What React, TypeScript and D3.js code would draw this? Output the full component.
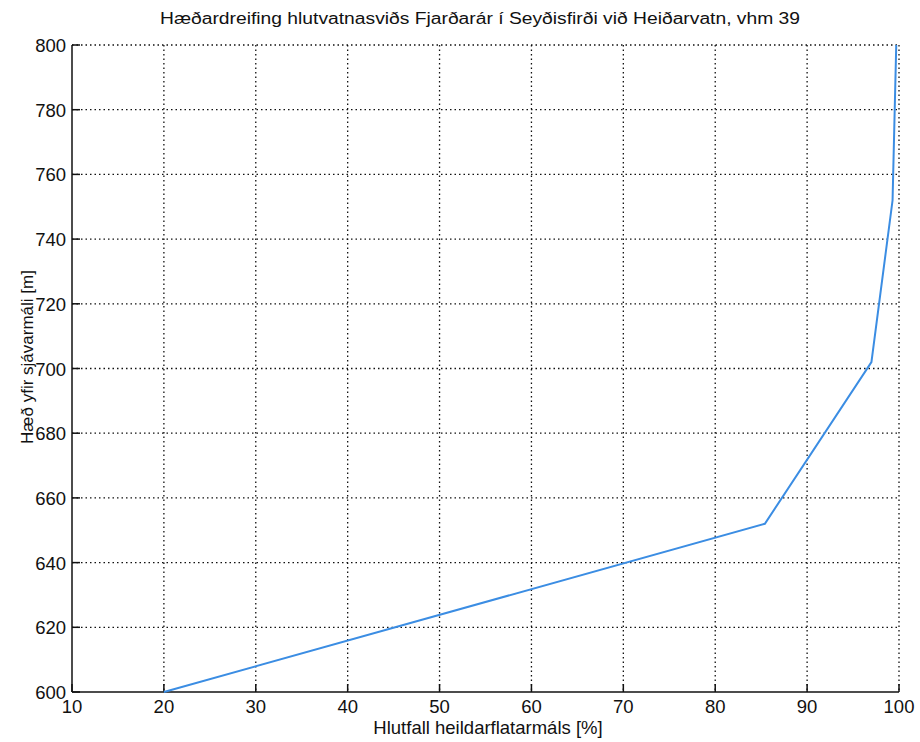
import React from "react";
import * as d3 from "d3";

const xTicks = [10, 20, 30, 40, 50, 60, 70, 80, 90, 100];
const yTicks = [600, 620, 640, 660, 680, 700, 720, 740, 760, 780, 800];
const percent = [20, 85.4, 97.0, 99.3, 99.7];
const elevation = [600, 652, 702, 752, 800];

const title = "Hæðardreifing hlutvatnasviðs Fjarðarár í Seyðisfirði við Heiðarvatn, vhm 39";
const xLabel = "Hlutfall heildarflatarmáls [%]";
const yLabel = "Hæð yfir sjávarmáli [m]";

export default function App() {
  const W = 920, H = 742;
  const left = 72, right = 899, top = 45, bottom = 692;
  const x = d3.scaleLinear().domain([10, 100]).range([left, right]);
  const y = d3.scaleLinear().domain([600, 800]).range([bottom, top]);
  const pts: [number, number][] = percent.map((p, i) => [p, elevation[i]]);
  const line = d3.line<[number, number]>().x(d => x(d[0])).y(d => y(d[1]));
  const font = "'Liberation Sans', Arial, sans-serif";
  return (
    <svg width={W} height={H} style={{ position: "absolute", left: 0, top: 0, background: "#fff" }}>
      <rect width={W} height={H} fill="#fff" />
      <g stroke="#111" strokeWidth={1.3} strokeDasharray="1.5 3">
        {xTicks.slice(1).map(t => (
          <line key={"gx" + t} x1={x(t)} x2={x(t)} y1={top} y2={bottom} />
        ))}
        {yTicks.slice(1).map(t => (
          <line key={"gy" + t} x1={left} x2={right} y1={y(t)} y2={y(t)} />
        ))}
      </g>
      <g stroke="#111" strokeWidth={1.5}>
        <line x1={left} x2={left} y1={top} y2={bottom} />
        <line x1={left} x2={right} y1={bottom} y2={bottom} />
        {xTicks.map(t => (
          <line key={"tx" + t} x1={x(t)} x2={x(t)} y1={bottom} y2={bottom - 8} />
        ))}
        {yTicks.map(t => (
          <line key={"ty" + t} x1={left} x2={left + 8} y1={y(t)} y2={y(t)} />
        ))}
      </g>
      <path d={line(pts) || ""} fill="none" stroke="#3b8de3" strokeWidth={2} />
      <g fontFamily={font} fontSize={18.5} fill="#111">
        {xTicks.map(t => (
          <text key={"lx" + t} x={x(t)} y={bottom + 21} textAnchor="middle">{t}</text>
        ))}
        {yTicks.map(t => (
          <text key={"ly" + t} x={left - 6} y={y(t) + 7} textAnchor="end">{t}</text>
        ))}
      </g>
      <text x={480} y={24} textAnchor="middle" fontFamily={font} fontSize={16} fill="#111"
        textLength={640} lengthAdjust="spacingAndGlyphs">{title}</text>
      <text x={488} y={734} textAnchor="middle" fontFamily={font} fontSize={18.5} fill="#111">{xLabel}</text>
      <text transform={`translate(33, 357) rotate(-90)`} textAnchor="middle" fontFamily={font} fontSize={17} fill="#111">{yLabel}</text>
    </svg>
  );
}
